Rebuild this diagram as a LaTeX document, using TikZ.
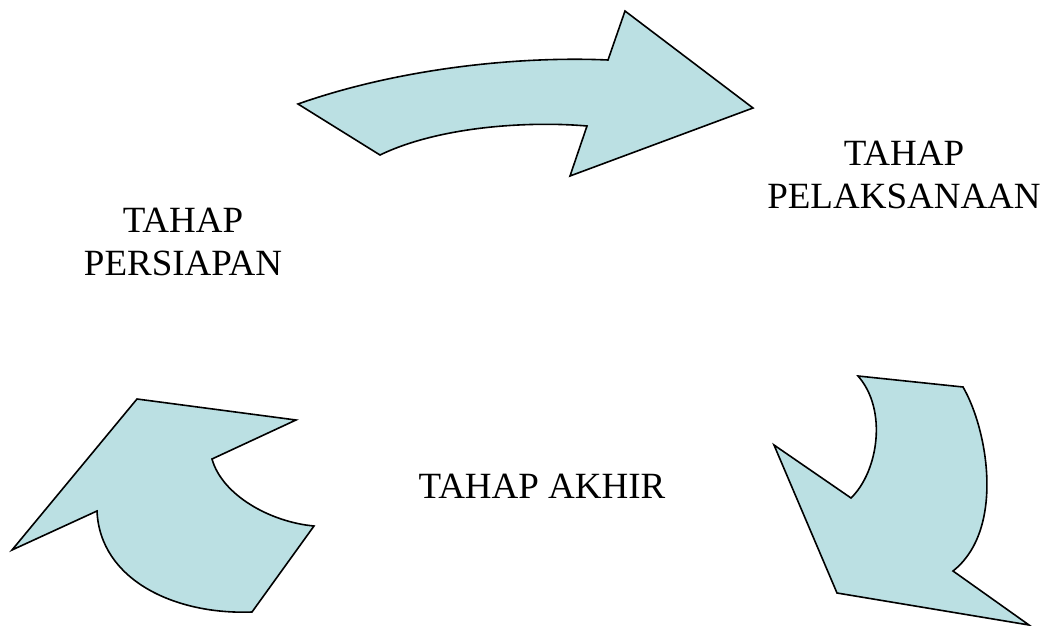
\documentclass[tikz,border=0pt]{standalone}
\usepackage{fontspec}
\setmainfont{Liberation Serif}
\begin{document}
\begin{tikzpicture}[x=1pt,y=-1pt,
  arrowshape/.style={draw=black,line width=1.6pt,fill=arrowfill,line join=miter},
  label/.style={font=\fontsize{37}{43}\selectfont,align=center,anchor=base,inner sep=0pt}]
\definecolor{arrowfill}{RGB}{187,224,227}
\useasboundingbox (0,0) rectangle (1045,626);
% top arrow
\draw[arrowshape] (298,104) .. controls (400,68) and (520,56) .. (608,60)
  -- (625,11) -- (753,108) -- (570,176) -- (587,126)
  .. controls (530,121) and (440,126) .. (380,155) -- cycle;
% bottom-right arrow
\draw[arrowshape] (858,376) -- (963,387)
  .. controls (988,430) and (1005,530) .. (953,571)
  -- (1029,625) -- (837,593) -- (774,445) -- (851,498)
  .. controls (878,472) and (888,410) .. (858,376) -- cycle;
% bottom-left arrow
\draw[arrowshape] (137,399) -- (296,420) -- (212,459)
  .. controls (222,495) and (270,522) .. (314,526)
  -- (252,612) .. controls (175,615) and (100,580) .. (97,511)
  -- (12,550) -- cycle;
\node[label] (persiapan) at (183,275) {TAHAP\\PERSIAPAN};
\node[label] (pelaksanaan) at (904,208) {TAHAP\\PELAKSANAAN};
\node[label] (akhir) at (542,498) {TAHAP AKHIR};
\end{tikzpicture}
\end{document}
